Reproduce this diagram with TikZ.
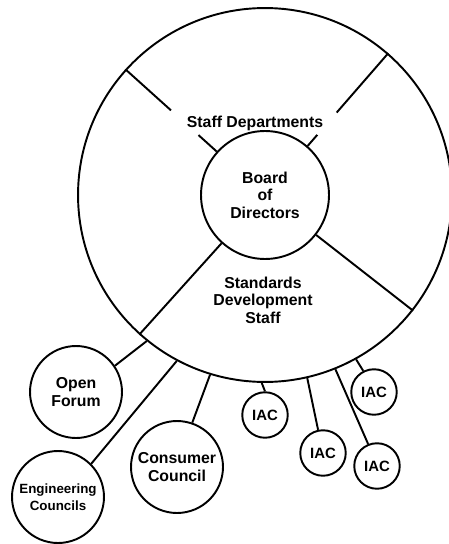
\documentclass[tikz,border=0pt]{standalone}
\usepackage{fontspec}
\setmainfont{Liberation Sans}
\usetikzlibrary{calc}
\begin{document}
\begin{tikzpicture}[x=0.02cm,y=-0.02cm,line width=1.1pt,
  ring/.style={circle,draw,inner sep=0pt,align=center},
  txt/.style={font=\fontsize{9}{10}\selectfont\bfseries,align=center,inner sep=0pt},
  unit/.style={ring,minimum size=1.84cm,font=\fontsize{9}{10.5}\selectfont\bfseries},
  iacbox/.style={ring,minimum size=0.91cm,font=\fontsize{8.5}{10}\selectfont\bfseries}]
\useasboundingbox (0,0) rectangle (449,544);
\clip (0,0) rectangle (449,544);
% main rings
\node[ring,minimum size=7.48cm] (outer) at (265,195) {};
\node[ring,minimum size=2.56cm] (board) at (265,195) {};
% gap ends on the upper radial lines
\coordinate (ulA) at ($(outer.138)!0.50!(board.138)$);
\coordinate (ulB) at ($(outer.138)!0.80!(board.138)$);
\coordinate (urA) at ($(outer.49)!0.64!(board.49)$);
\coordinate (urB) at ($(outer.49)!0.88!(board.49)$);
\draw (outer.138) -- (ulA);
\draw (ulB) -- (board.138);
\draw (outer.49) -- (urA);
\draw (urB) -- (board.49);
\draw (board.-38.5) -- (outer.-38.5);
\draw (board.228) -- (outer.228);
% labels of the rings
\node[txt] (staff) at (255,123) {Staff Departments};
\node[txt] (boardtxt) at (265,195) {Board\\of\\Directors};
\node[txt] (sds) at (263,300) {Standards\\Development\\Staff};
% satellite bodies
\node[unit] (open) at (76,392) {Open\\Forum};
\node[unit,font=\fontsize{7.6}{9.5}\selectfont\bfseries] (eng) at (58,497) {Engineering\\Councils};
\node[unit] (cons) at (177,467) {Consumer\\Council};
\node[iacbox] (iac1) at (265,415) {IAC};
\node[iacbox] (iac2) at (323,453) {IAC};
\node[iacbox] (iac3) at (374,392) {IAC};
\node[iacbox] (iac4) at (377,466) {IAC};
% connectors
\draw (open.34) -- (outer.231.5);
\draw (eng.45) -- (outer.242);
\draw (cons.71) -- (outer.253);
\draw (iac1.90) -- (outer.269.5);
\draw (iac2.102) -- (outer.283);
\draw (iac3.117) -- (outer.299);
\draw (iac4.112) -- (outer.292.5);
\end{tikzpicture}
\end{document}
